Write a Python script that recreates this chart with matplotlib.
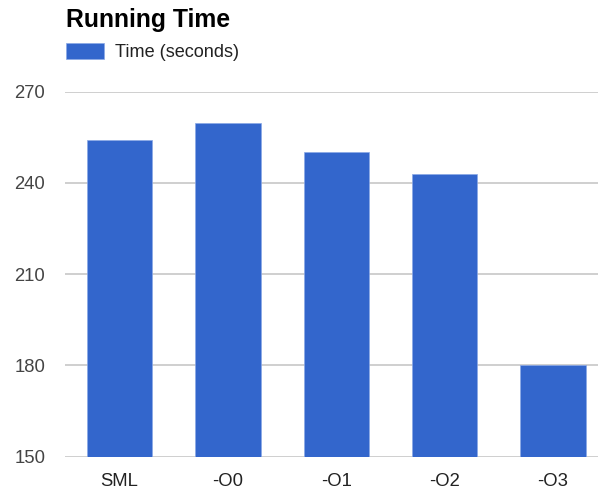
import matplotlib
matplotlib.use("Agg")
import matplotlib.pyplot as plt
from matplotlib.patches import Patch

plt.rcParams["font.family"] = ["Liberation Sans", "DejaVu Sans"]

categories = ["SML", "-O0", "-O1", "-O2", "-O3"]
times = [254.0, 259.8, 250.3, 242.9, 180.2]
y_ticks = [150, 180, 210, 240, 270]

BLUE = "#3366cc"

fig = plt.figure(figsize=(5.98, 4.91), dpi=100)
ax = fig.add_axes([65.3 / 598, 34.3 / 491, 542 / 598, 365 / 491])

x = range(len(categories))
ax.bar(x, times, width=0.604, color=BLUE, edgecolor="#8aa8e6",
       linewidth=0.5, zorder=3)

ax.set_xlim(-0.5, len(categories) - 0.5)
ax.set_ylim(y_ticks[0], y_ticks[-1])
ax.set_yticks(y_ticks)
ax.set_xticks(list(x))
ax.set_xticklabels(categories)

ax.grid(axis="y", color="#cccccc", linewidth=1.3, zorder=0)
ax.set_axisbelow(True)
for s in ax.spines.values():
    s.set_visible(False)
ax.tick_params(axis="y", length=0, pad=14.5, labelsize=13.3, labelcolor="#444444")
ax.tick_params(axis="x", length=0, pad=11.5, labelsize=13.3, labelcolor="#222222")

fig.text(66 / 598, 1 - 27.3 / 491, "Running Time", fontsize=17.8,
         fontweight="bold", va="baseline", ha="left", color="#000000")

handle = Patch(facecolor=BLUE, edgecolor="#8aa8e6", linewidth=0.5)
fig.legend([handle], ["Time (seconds)"], loc="center left",
           bbox_to_anchor=(66 / 598, 1 - 52 / 491), frameon=False,
           fontsize=13.1, handlelength=2.09, handleheight=1.04,
           handletextpad=0.6, borderpad=0, borderaxespad=0,
           labelcolor="#222222")

fig.savefig("out.png", dpi=100)
